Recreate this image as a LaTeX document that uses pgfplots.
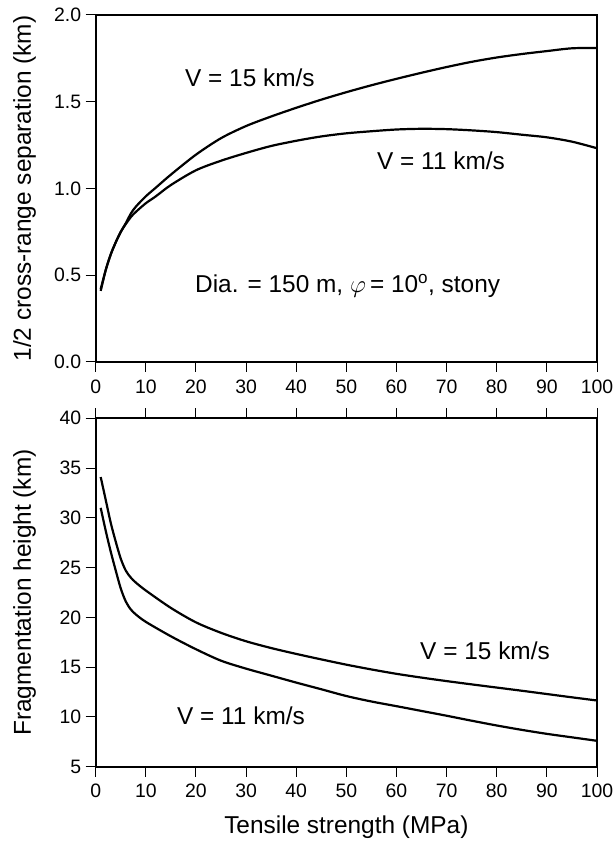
\documentclass[border=0pt]{standalone}
\usepackage{fontspec}
\setmainfont{Liberation Sans}
\usepackage{pgfplots}
\pgfplotsset{compat=1.18}
\begin{document}
\begin{tikzpicture}
\useasboundingbox (0bp,0bp) rectangle (615bp,841bp);
\pgfplotsset{
  myax/.style={
    scale only axis, width=501.3bp,
    xmin=0, xmax=100, xtick={0,10,...,100},
    axis line style={line width=1.7bp},
    tick style={line width=1bp, black},
    major tick length=10bp, tick align=outside,
    tick label style={font=\fontsize{19.5}{21}\selectfont},
    xticklabel style={yshift=-4bp},
    yticklabel style={xshift=-1bp},
    /pgf/number format/assume math mode=true,
    label style={font=\fontsize{24.5}{27}\selectfont},
    ylabel style={at={(axis description cs:0,0.5)}, yshift=82.7bp, anchor=north, inner sep=0pt},
    every axis plot post/.append style={black, line width=2.2bp, smooth, mark=none},
    clip=false,
  }
}
% top panel
\begin{axis}[myax, at={(95.7bp,479bp)}, anchor=south west, height=347bp,
  ymin=0, ymax=2, ytick={0,0.5,...,2.0},
  yticklabel style={/pgf/number format/.cd, fixed, fixed zerofill, precision=1},
  xtick pos=bottom, ytick pos=left,
  ylabel={1/2 cross-range separation (km)}]
\addplot coordinates {(1,0.42)(2,0.53)(3,0.62)(4,0.69)(5,0.75)(6,0.80)(7,0.855)(8,0.895)(10,0.955)(12,1.005)(15,1.08)(20,1.195)(25,1.29)(30,1.36)(35,1.415)(40,1.465)(45,1.512)(50,1.555)(55,1.595)(60,1.632)(65,1.667)(70,1.70)(75,1.73)(80,1.755)(85,1.775)(90,1.792)(95,1.808)(100,1.81)};
\addplot coordinates {(1,0.41)(2,0.53)(3,0.62)(4,0.69)(5,0.75)(6,0.795)(7,0.835)(8,0.865)(10,0.915)(12,0.955)(15,1.02)(20,1.105)(25,1.16)(30,1.205)(35,1.245)(40,1.275)(45,1.30)(50,1.318)(55,1.33)(60,1.34)(65,1.344)(70,1.342)(75,1.335)(80,1.325)(85,1.31)(90,1.295)(95,1.27)(100,1.232)};
\node[anchor=base west, inner sep=0pt, font=\fontsize{24.5}{27}\selectfont] at (axis cs:17.8,1.59) {V = 15 km/s};
\node[anchor=base west, inner sep=0pt, font=\fontsize{24.5}{27}\selectfont] at (axis cs:56.1,1.107) {V = 11 km/s};
\node[anchor=base west, inner sep=0pt, font=\fontsize{24.5}{27}\selectfont] at (axis cs:19.8,0.40) {Dia. = 150 m, $\varphi$\,= 10\textsuperscript{o}, stony};
\end{axis}
% bottom panel
\begin{axis}[myax, at={(95.7bp,74.3bp)}, anchor=south west, height=348.4bp,
  ymin=5, ymax=40, ytick={5,10,...,40},
  xtick pos=both, ytick pos=left,
  xlabel={Tensile strength (MPa)},
  xlabel style={at={(axis description cs:0.5,0)}, yshift=-60bp, anchor=center, inner sep=0pt},
  ylabel={Fragmentation height (km)}]
\addplot coordinates {(1,34.1)(2,31.8)(3,29.5)(4,27.6)(5,25.9)(6,24.7)(7,24.0)(8,23.5)(10,22.7)(15,20.95)(20,19.5)(25,18.45)(30,17.6)(35,16.92)(40,16.33)(45,15.78)(50,15.25)(55,14.77)(60,14.33)(65,13.95)(70,13.6)(75,13.27)(80,12.95)(85,12.63)(90,12.3)(95,11.97)(100,11.65)};
\addplot coordinates {(1,31.0)(2,28.7)(3,26.6)(4,24.7)(5,22.9)(6,21.6)(7,20.8)(8,20.3)(10,19.55)(15,18.1)(20,16.8)(25,15.65)(30,14.85)(35,14.15)(40,13.45)(45,12.78)(50,12.1)(55,11.55)(60,11.08)(65,10.6)(70,10.12)(75,9.62)(80,9.14)(85,8.7)(90,8.3)(95,7.95)(100,7.6)};
\node[anchor=base west, inner sep=0pt, font=\fontsize{24.5}{27}\selectfont] at (axis cs:64.7,15.72) {V = 15 km/s};
\node[anchor=base west, inner sep=0pt, font=\fontsize{24.5}{27}\selectfont] at (axis cs:16.2,9.19) {V = 11 km/s};
\end{axis}
\end{tikzpicture}
\end{document}
